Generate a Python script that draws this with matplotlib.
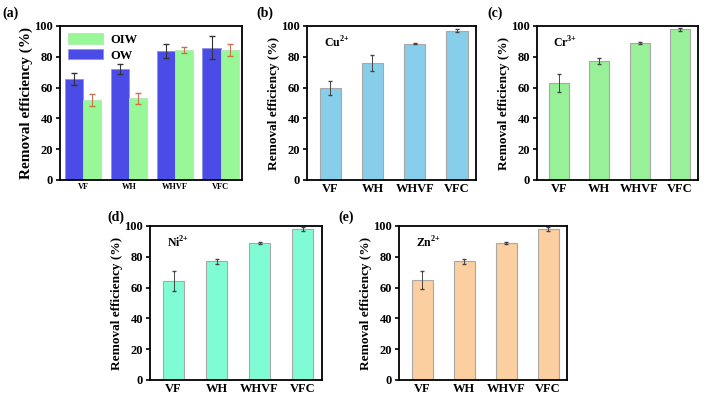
import numpy as np
import matplotlib.pyplot as plt

plt.rcParams['font.family'] = 'Liberation Serif'
plt.rcParams['font.weight'] = 'bold'
plt.rcParams['mathtext.fontset'] = 'custom'
plt.rcParams['mathtext.rm'] = 'Liberation Serif:bold'
plt.rcParams['mathtext.bf'] = 'Liberation Serif:bold'

# Daten
filtros = ['VF', 'WH', 'WHVF', 'VFC']

ow = [65.5, 72.0, 83.5, 86.0]
ow_err = [4.0, 3.0, 4.5, 7.5]
oiw = [52.0, 53.0, 84.5, 84.5]
oiw_err = [4.0, 3.5, 2.0, 4.0]

cu = [60.0, 76.0, 88.5, 97.0]
cu_err = [4.5, 5.0, 0.4, 1.0]
cr = [63.0, 77.0, 89.0, 98.0]
cr_err = [6.0, 2.0, 0.4, 1.0]
ni = [64.5, 77.0, 89.0, 98.0]
ni_err = [6.5, 1.5, 0.8, 1.5]
zn = [65.0, 77.0, 89.0, 98.0]
zn_err = [6.0, 1.5, 0.8, 1.5]

W, H = 709, 395
fig = plt.figure(figsize=(W / 100, H / 100), dpi=100)


def eixo(x0, x1, y0, y1):
    return fig.add_axes([x0 / W, (H - y1) / H, (x1 - x0) / W, (y1 - y0) / H])


def estilo(ax, xfs, yl_fs):
    ax.set_ylim(0, 100)
    ax.set_yticks([0, 20, 40, 60, 80, 100])
    ax.set_ylabel('Removal efficiency (%)', fontsize=yl_fs, fontweight='bold', labelpad=1)
    ax.tick_params(axis='y', labelsize=9, width=1.2, length=3, pad=2)
    ax.tick_params(axis='x', labelsize=xfs, width=1.2, length=0, pad=2)
    for s in ax.spines.values():
        s.set_linewidth(1.3)
    ax.set_xticks(range(4))
    ax.set_xticklabels(filtros, fontweight='bold')


x = np.arange(4)

# (a)
ax = eixo(60, 242, 26, 180)
ax.bar(x - 0.2, ow, 0.4, color='#4b4be8', edgecolor='#9090e0', linewidth=0.6, label='OW')
ax.bar(x + 0.2, oiw, 0.4, color='#98f898', edgecolor='#b0e8b0', linewidth=0.6, label='OIW')
ax.errorbar(x - 0.2, ow, yerr=ow_err, fmt='none', ecolor='#333333', elinewidth=0.8, capsize=2)
ax.errorbar(x + 0.2, oiw, yerr=oiw_err, fmt='none', ecolor='#c8704a', elinewidth=0.8, capsize=2)
ax.set_xlim(-0.5, 3.46)
estilo(ax, 6, 11)
hs, ls = ax.get_legend_handles_labels()
ax.legend(hs[::-1], ls[::-1], loc='upper left', frameon=False, fontsize=9,
          handlelength=2.8, handleheight=0.9, borderaxespad=0.2, labelspacing=0.25,
          handletextpad=0.6)
fig.text(2 / W, 1 - 13 / H, '(a)', fontsize=10, fontweight='bold', va='center')

# (b)-(e)
paineis = [
    ((307, 476, 26, 180), cu, cu_err, '#87ceeb', r'Cu$^{2{+}}$', '(b)', (256, 13)),
    ((537, 698, 26, 180), cr, cr_err, '#98f098', r'Cr$^{3{+}}$', '(c)', (487, 13)),
    ((150, 322, 226, 380), ni, ni_err, '#80fcd4', r'Ni$^{2{+}}$', '(d)', (107, 217)),
    ((399, 567, 226, 380), zn, zn_err, '#fbcf9f', r'Zn$^{2{+}}$', '(e)', (338, 217)),
]
for (x0, x1, y0, y1), vals, errs, cor, ion, letra, (lx, ly) in paineis:
    ax = eixo(x0, x1, y0, y1)
    ax.bar(x, vals, 0.5, color=cor, edgecolor='#a8a8a8', linewidth=0.8)
    ax.errorbar(x, vals, yerr=errs, fmt='none', ecolor='#444444', elinewidth=0.7, capsize=1.5)
    ax.set_xlim(-0.55, 3.45)
    estilo(ax, 9, 9.5)
    ax.text(0.1, 0.86, ion, transform=ax.transAxes, fontsize=8.5, fontweight='bold')
    fig.text(lx / W, 1 - ly / H, letra, fontsize=10, fontweight='bold', va='center')

plt.savefig('out.png', dpi=100)
